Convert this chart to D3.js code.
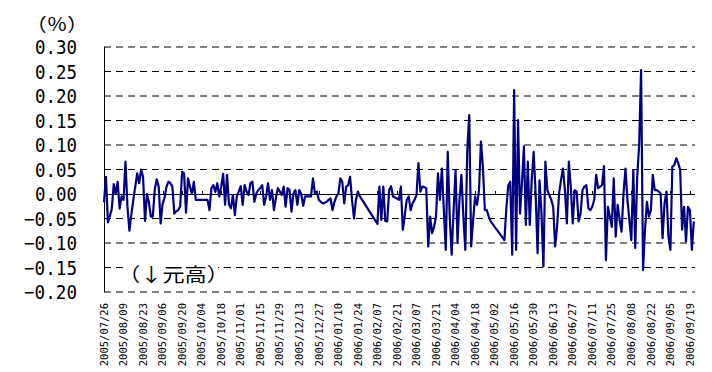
<!DOCTYPE html>
<html>
<head>
<meta charset="utf-8">
<script src="https://cdn.jsdelivr.net/npm/d3@7"></script>
<style>
  body { margin: 0; background: #fff; }
  svg { display: block; }
</style>
</head>
<body>
<div id="chart"></div>
<script>
// daily change of the rate (%), one value per weekday from 2005/07/26
// null = no quote (holidays), Excel just joins the points across them
const changes2005 = [
  -0.017, 0.035, -0.058, -0.045, -0.030, 0.020, 0.000, 0.025, -0.030, -0.005,
  -0.012, 0.066, -0.025, -0.075, -0.042, -0.012, 0.015, 0.042, 0.022, 0.050,
  0.035, -0.055, 0.000, -0.017, -0.046, -0.046, 0.010, 0.030, 0.015, -0.060,
  -0.020, -0.008, 0.015, 0.025, 0.022, 0.015, -0.040, -0.035, -0.033, -0.025,
  0.045, 0.042, -0.038, 0.032, 0.015, 0.000, 0.025, -0.012, -0.012, -0.012,
  -0.012, -0.012, -0.012, -0.012, -0.033, 0.012, 0.018, 0.004, 0.022, -0.005,
  0.015, 0.041, -0.022, 0.039, -0.022, -0.029, -0.002, -0.043, -0.005, 0.005,
  0.016, -0.022, 0.018, 0.005, -0.002, 0.022, 0.025, -0.016, 0.001, 0.008,
  0.012, 0.018, -0.022, -0.005, 0.022, -0.012, 0.008, -0.033, -0.009, 0.012,
  0.005, -0.002, 0.015, -0.026, 0.012, 0.008, -0.036, 0.001, 0.008, -0.022,
  0.008, 0.000, -0.024, -0.005, -0.005, -0.005, -0.005, 0.032, 0.001, 0.005,
  -0.012, -0.016, -0.019, -0.018, -0.016, -0.012, -0.009, -0.033, -0.016, -0.005,
  0.001, 0.032, 0.025, -0.019
];
const changes2006 = [
  0.015, 0.018, 0.035, -0.012, -0.050, -0.012,
  0.005, -0.005, null, null, null, null, null, null, null, null,
  -0.061, 0.015, -0.053, 0.015, -0.055, -0.056, 0.008, 0.016, -0.005, -0.007,
  -0.009, -0.012, 0.015, -0.073, -0.043, -0.012, -0.005, -0.033, -0.019, -0.012,
  -0.002, 0.063, 0.005, 0.015, 0.014, 0.012, -0.107, -0.046, -0.080, -0.067,
  -0.046, 0.042, -0.012, 0.052, -0.033, -0.114, 0.086, -0.046, -0.124, -0.033,
  0.049, -0.100, -0.012, 0.039, -0.046, -0.114, 0.090, 0.161, -0.107, -0.053,
  -0.005, -0.022, 0.008, 0.107, 0.056, -0.033, -0.033, -0.046, -0.056, null,
  null, null, null, null, null, -0.094, -0.030, 0.018, 0.025, -0.124,
  0.212, -0.114, 0.151, -0.040, 0.022, 0.097, -0.063, 0.066, -0.063, 0.029,
  0.086, 0.001, -0.121, 0.028, -0.040, -0.148, 0.066, 0.008, -0.002, -0.012,
  -0.026, -0.107, -0.066, 0.001, 0.029, 0.052, 0.008, -0.060, 0.066, 0.015,
  -0.060, 0.008, 0.005, -0.056, -0.040, 0.008, 0.015, 0.018, -0.029, -0.033,
  -0.026, -0.012, 0.039, 0.012, 0.015, 0.018, 0.057, -0.135, -0.026, -0.046,
  -0.067, 0.032, -0.087, -0.022, -0.053, -0.077, 0.001, 0.052, -0.012, -0.053,
  -0.094, 0.049, -0.110, 0.035, 0.100, 0.253, -0.155, -0.073, -0.016, -0.046,
  -0.033, 0.039, 0.008, 0.008, 0.005, 0.001, -0.090, -0.019, 0.005, -0.087,
  -0.114, 0.056, 0.059, 0.073, 0.063, 0.049, -0.073, -0.026, -0.097, -0.026,
  -0.033, -0.114, -0.056
];

// one label every 10 weekdays
const tickLabels = [
  "2005/07/26", "2005/08/09", "2005/08/23", "2005/09/06", "2005/09/20",
  "2005/10/04", "2005/10/18", "2005/11/01", "2005/11/15", "2005/11/29",
  "2005/12/13", "2005/12/27", "2006/01/10", "2006/01/24", "2006/02/07",
  "2006/02/21", "2006/03/07", "2006/03/21", "2006/04/04", "2006/04/18",
  "2006/05/02", "2006/05/16", "2006/05/30", "2006/06/13", "2006/06/27",
  "2006/07/11", "2006/07/25", "2006/08/08", "2006/08/22", "2006/09/05",
  "2006/09/19"
];
const labelStep = 10;
const yTicks = [0.30, 0.25, 0.20, 0.15, 0.10, 0.05, 0.00, -0.05, -0.10, -0.15, -0.20];

const width = 712;
const height = 372;
const plot = { left: 104, right: 695, top: 47, bottom: 292 };
const lineColor = "#000080";
const cjkFont = "'Noto Sans CJK JP', sans-serif";

const series = changes2005.concat(changes2006).map((v, i) => ({ i: i, v: v }));

const x = d3.scaleLinear().domain([0, 302.6]).range([plot.left, plot.right]);
const y = d3.scaleLinear().domain([-0.2, 0.3]).range([plot.bottom, plot.top]);

const svg = d3.select("#chart")
  .append("svg")
  .attr("width", width)
  .attr("height", height);

// dashed grid
svg.append("g")
  .selectAll("line")
  .data(yTicks.filter(t => t !== 0))
  .enter()
  .append("line")
  .attr("x1", plot.left)
  .attr("x2", plot.right)
  .attr("y1", d => y(d))
  .attr("y2", d => y(d))
  .attr("stroke", "#000")
  .attr("stroke-width", 1)
  .attr("stroke-dasharray", "7,5");

// (↓元高) note sits in a white box over the grid
svg.append("rect")
  .attr("x", 127)
  .attr("y", 262)
  .attr("width", 91)
  .attr("height", 24)
  .attr("fill", "#fff");
svg.append("text")
  .attr("x", 118)
  .attr("y", 282)
  .attr("font-family", cjkFont)
  .attr("font-size", 19)
  .attr("textLength", 111)
  .attr("lengthAdjust", "spacingAndGlyphs")
  .attr("fill", "#000")
  .text("（↓元高）");

// y axis line
svg.append("line")
  .attr("x1", plot.left + 0.5)
  .attr("x2", plot.left + 0.5)
  .attr("y1", plot.top)
  .attr("y2", plot.bottom)
  .attr("stroke", "#000");

// category axis crosses at zero
svg.append("line")
  .attr("x1", plot.left)
  .attr("x2", plot.right)
  .attr("y1", Math.round(y(0)) + 0.5)
  .attr("y2", Math.round(y(0)) + 0.5)
  .attr("stroke", "#000");

svg.append("g")
  .selectAll("line")
  .data(tickLabels)
  .enter()
  .append("line")
  .attr("x1", (d, k) => Math.round(x(k * labelStep)) + 0.5)
  .attr("x2", (d, k) => Math.round(x(k * labelStep)) + 0.5)
  .attr("y1", Math.round(y(0)))
  .attr("y2", Math.round(y(0)) - 3)
  .attr("stroke", "#000");

// y tick labels
svg.append("g")
  .selectAll("text")
  .data(yTicks)
  .enter()
  .append("text")
  .attr("x", 77)
  .attr("y", d => y(d))
  .attr("dy", "0.35em")
  .attr("text-anchor", "end")
  .attr("font-family", "'DejaVu Sans Mono', monospace")
  .attr("font-size", 20)
  .attr("textLength", d => d < 0 ? 53 : 42)
  .attr("lengthAdjust", "spacingAndGlyphs")
  .attr("fill", "#000")
  .text(d => (d < 0 ? "\u2212" : "") + d3.format(".2f")(Math.abs(d)));

// unit
svg.append("text")
  .attr("x", 57)
  .attr("y", 30.5)
  .attr("text-anchor", "middle")
  .attr("font-family", cjkFont)
  .attr("font-size", 18)
  .attr("textLength", 62)
  .attr("lengthAdjust", "spacingAndGlyphs")
  .attr("fill", "#000")
  .text("（％）");

// x tick labels, vertical
svg.append("g")
  .selectAll("text")
  .data(tickLabels)
  .enter()
  .append("text")
  .attr("transform", (d, k) => "translate(" + x(k * labelStep) + ",303) rotate(-90)")
  .attr("dy", "0.35em")
  .attr("text-anchor", "end")
  .attr("font-family", "'DejaVu Sans Mono', monospace")
  .attr("font-size", 10.5)
  .attr("fill", "#000")
  .text(d => d);

// the series, joined straight across missing days
const line = d3.line()
  .x(d => x(d.i))
  .y(d => y(d.v));

svg.append("path")
  .datum(series.filter(d => d.v !== null))
  .attr("d", line)
  .attr("fill", "none")
  .attr("stroke", lineColor)
  .attr("stroke-width", 2.2)
  .attr("stroke-linejoin", "round");
</script>
</body>
</html>
